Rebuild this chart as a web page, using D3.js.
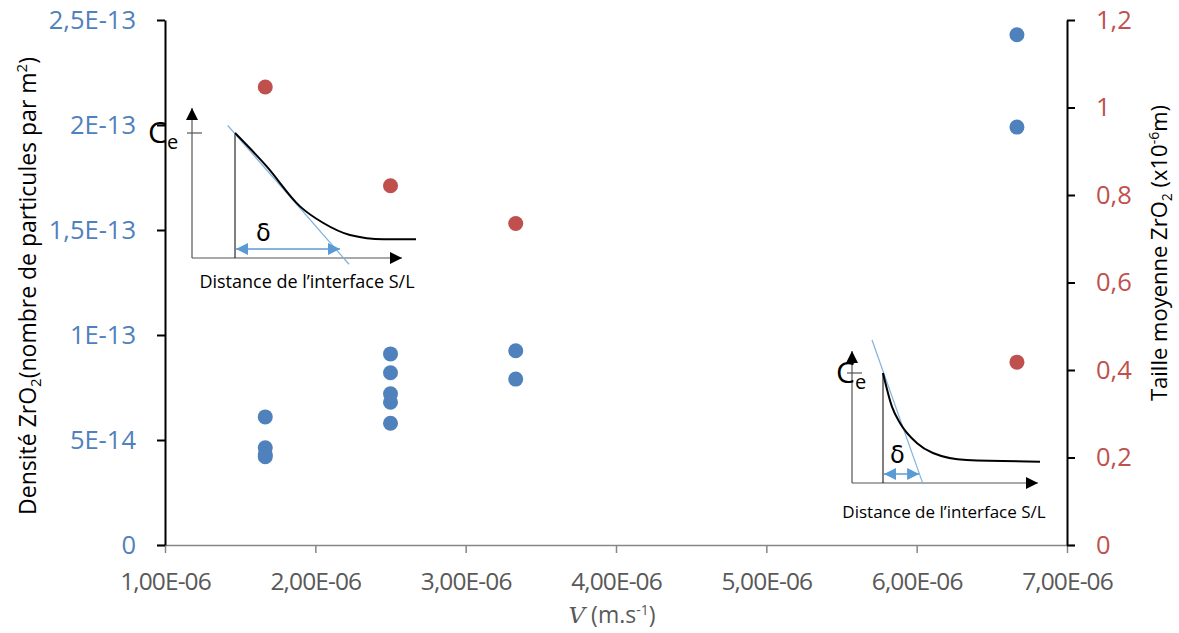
<!DOCTYPE html>
<html><head><meta charset="utf-8">
<script src="https://cdn.jsdelivr.net/npm/d3@7"></script>
<style>
body{margin:0;background:#fff;}
svg{display:block;font-family:"Open Sans",sans-serif;}
</style></head>
<body>
<script>
// ---------- data ----------
const xTickValues = [1e-6, 2e-6, 3e-6, 4e-6, 5e-6, 6e-6, 7e-6];
const xTickLabels = ["1,00E-06","2,00E-06","3,00E-06","4,00E-06","5,00E-06","6,00E-06","7,00E-06"];
const leftTickValues = [0, 5e-14, 1e-13, 1.5e-13, 2e-13, 2.5e-13];
const leftTickLabels = ["0","5E-14","1E-13","1,5E-13","2E-13","2,5E-13"];
const rightTickValues = [0, 0.2, 0.4, 0.6, 0.8, 1.0, 1.2];
const rightTickLabels = ["0","0,2","0,4","0,6","0,8","1","1,2"];

// Densité ZrO2 (left axis)
const densityV   = [1.667e-6, 1.667e-6, 1.667e-6, 1.667e-6, 2.5e-6, 2.5e-6, 2.5e-6, 2.5e-6, 2.5e-6, 3.333e-6, 3.333e-6, 6.667e-6, 6.667e-6];
const densityVal = [6.1e-14, 4.63e-14, 4.3e-14, 4.2e-14, 9.1e-14, 8.2e-14, 7.2e-14, 6.8e-14, 5.8e-14, 9.25e-14, 7.9e-14, 2.43e-13, 1.99e-13];
// Taille moyenne ZrO2 (right axis)
const sizeV   = [1.667e-6, 2.5e-6, 3.333e-6, 6.667e-6];
const sizeVal = [1.047, 0.821, 0.735, 0.418];

// inset schematics (normalized units: x 0..1 distance, y 0..1 concentration)
const insetACurveX = [0, 0.175, 0.359, 0.488, 0.635, 0.82, 1.0];
const insetACurveY = [1, 0.733, 0.413, 0.28, 0.184, 0.15, 0.15];
const insetBCurveX = [0, 0.057, 0.108, 0.215, 0.318, 0.533, 1.0];
const insetBCurveY = [1, 0.694, 0.545, 0.364, 0.273, 0.209, 0.194];

// ---------- layout ----------
const W = 1179, H = 633;
const svg = d3.select("body").append("svg").attr("width", W).attr("height", H);

const x = d3.scaleLinear().domain([1e-6, 7e-6]).range([165, 1067]);
const yL = d3.scaleLinear().domain([0, 2.5e-13]).range([545, 20]);
const yR = d3.scaleLinear().domain([0, 1.2]).range([545, 20]);

const BLUE = "#4F81BD", RED = "#C0504D";

// x axis
const xAxis = d3.axisBottom(x).tickValues(xTickValues)
  .tickFormat((d, i) => xTickLabels[i]).tickSize(8).tickSizeOuter(0);
const gx = svg.append("g").attr("transform", "translate(0,545)").call(xAxis);
gx.select(".domain").attr("stroke", "#868686").attr("stroke-width", 1.5)
  .attr("d", "M157,0.5H1075");
gx.selectAll(".tick line").attr("stroke", "#868686").attr("stroke-width", 1.5);
gx.selectAll(".tick text").attr("fill", "#595959").attr("font-size", 24.5)
  .attr("letter-spacing", -0.9).attr("dy", null).attr("y", 45);

// left axis
const yAxisL = d3.axisLeft(yL).tickValues(leftTickValues)
  .tickFormat((d, i) => leftTickLabels[i]).tickSize(8).tickSizeOuter(0);
const gl = svg.append("g").attr("transform", "translate(165,0)").call(yAxisL);
gl.select(".domain").attr("stroke", "#000").attr("stroke-width", 2);
gl.selectAll(".tick line").attr("stroke", "#000").attr("stroke-width", 2);
gl.selectAll(".tick text").attr("fill", BLUE).attr("font-size", 25.5).attr("x", -29);

// right axis
const yAxisR = d3.axisRight(yR).tickValues(rightTickValues)
  .tickFormat((d, i) => rightTickLabels[i]).tickSize(8).tickSizeOuter(0);
const gr = svg.append("g").attr("transform", "translate(1067,0)").call(yAxisR);
gr.select(".domain").attr("stroke", "#000").attr("stroke-width", 2);
gr.selectAll(".tick line").attr("stroke", "#000").attr("stroke-width", 2);
gr.selectAll(".tick text").attr("fill", RED).attr("font-size", 25.5).attr("x", 29);

svg.selectAll(".tick text").attr("font-family", "Open Sans");

// axis titles
const lt = svg.append("text").attr("transform", "translate(36,286) rotate(-90)")
  .attr("text-anchor", "middle").attr("font-size", 23).attr("fill", "#000");
lt.append("tspan").text("Densité ZrO");
lt.append("tspan").text("2").attr("font-size", 15).attr("dy", 5);
lt.append("tspan").text("(nombre de particules par m").attr("dy", -5);
lt.append("tspan").text("2").attr("font-size", 15).attr("dy", -9);
lt.append("tspan").text(")").attr("dy", 9);

const rt = svg.append("text").attr("transform", "translate(1167,253) rotate(-90)")
  .attr("text-anchor", "middle").attr("font-size", 22).attr("fill", "#000");
rt.append("tspan").text("Taille moyenne ZrO");
rt.append("tspan").text("2").attr("font-size", 14).attr("dy", 5);
rt.append("tspan").text(" (x10").attr("dy", -5);
rt.append("tspan").text("-6").attr("font-size", 14).attr("dy", -8);
rt.append("tspan").text("m)").attr("dy", 8);

const xt = svg.append("text").attr("x", 612).attr("y", 623)
  .attr("text-anchor", "middle").attr("font-size", 23).attr("fill", "#595959");
xt.append("tspan").text("V").attr("font-family", "DejaVu Serif").attr("font-style", "italic");
xt.append("tspan").text(" (m.s");
xt.append("tspan").text("-1").attr("font-size", 14).attr("dy", -8);
xt.append("tspan").text(")").attr("dy", 8);

// ---------- insets ----------
const defs = svg.append("defs");
function marker(id, color, w, h) {
  defs.append("marker").attr("id", id).attr("viewBox", "0 0 10 10")
    .attr("refX", 10).attr("refY", 5).attr("markerWidth", w).attr("markerHeight", h)
    .attr("markerUnits", "userSpaceOnUse").attr("orient", "auto-start-reverse")
    .append("path").attr("d", "M0,0L10,5L0,10Z").attr("fill", color);
}
marker("arrK", "#000", 14, 12);
marker("arrB", "#5B9BD5", 13, 12);

function inset(cfg) {
  const g = svg.append("g");
  const sx = d3.scaleLinear().domain([0, 1]).range([cfg.x0, cfg.x1]);
  const sy = d3.scaleLinear().domain([0, 1]).range([cfg.yBase, cfg.yTop]);
  g.append("line").attr("x1", cfg.ax).attr("y1", cfg.ay).attr("x2", cfg.ax).attr("y2", cfg.arrowTop)
    .attr("stroke", "#555").attr("stroke-width", 1.2).attr("marker-end", "url(#arrK)");
  g.append("line").attr("x1", cfg.ax).attr("y1", cfg.ay).attr("x2", cfg.arrowRight).attr("y2", cfg.ay)
    .attr("stroke", "#555").attr("stroke-width", 1.2).attr("marker-end", "url(#arrK)");
  g.append("line").attr("x1", cfg.ax - 5).attr("x2", cfg.ax + 10).attr("y1", sy(1)).attr("y2", sy(1))
    .attr("stroke", "#555").attr("stroke-width", 1.2);
  const ce = g.append("text").attr("x", cfg.ceX).attr("y", sy(1) + 10).attr("font-size", 30).attr("fill", "#000");
  ce.append("tspan").text("C");
  ce.append("tspan").text("e").attr("font-size", 20).attr("dy", 6);
  g.append("line").attr("x1", sx(0)).attr("x2", sx(0)).attr("y1", sy(1)).attr("y2", cfg.ay)
    .attr("stroke", "#000").attr("stroke-width", 1);
  g.append("line").attr("x1", sx(cfg.tan[0])).attr("y1", sy(cfg.tan[1]))
    .attr("x2", sx(cfg.tan[2])).attr("y2", sy(cfg.tan[3]))
    .attr("stroke", "#7FB2E0").attr("stroke-width", 1.2);
  const pts = cfg.cx.map((d, i) => [sx(d), sy(cfg.cy[i])]);
  g.append("path").attr("d", d3.line().curve(d3.curveMonotoneX)(pts))
    .attr("fill", "none").attr("stroke", "#000").attr("stroke-width", 2);
  g.append("line").attr("x1", sx(0) + 1).attr("x2", sx(cfg.delta)).attr("y1", cfg.dy).attr("y2", cfg.dy)
    .attr("stroke", "#5B9BD5").attr("stroke-width", 1.5)
    .attr("marker-start", "url(#arrB)").attr("marker-end", "url(#arrB)");
  g.append("text").attr("x", cfg.deltaTx).attr("y", cfg.deltaTy).attr("font-size", 24)
    .attr("font-family", "DejaVu Sans").attr("fill", "#000").text("δ");
  g.append("text").attr("x", cfg.lx).attr("y", cfg.ly).attr("font-size", cfg.lfs).attr("fill", "#000")
    .attr("text-anchor", "middle").text("Distance de l’interface S/L");
}

inset({x0: 235, x1: 416, yBase: 258, yTop: 133, ax: 192, ay: 258, arrowTop: 108, arrowRight: 402,
  ceX: 148, cx: insetACurveX, cy: insetACurveY, tan: [-0.04, 1.06, 0.63, -0.05],
  delta: 0.58, dy: 249, deltaTx: 256, deltaTy: 241, lx: 307, ly: 288, lfs: 18});
inset({x0: 883, x1: 1040, yBase: 483, yTop: 373, ax: 852, ay: 483, arrowTop: 351, arrowRight: 1038,
  ceX: 836, cx: insetBCurveX, cy: insetBCurveY, tan: [-0.07, 1.3, 0.255, -0.01],
  delta: 0.23, dy: 474, deltaTx: 890, deltaTy: 463, lx: 944, ly: 518, lfs: 17});

// ---------- points ----------
svg.append("g").selectAll("circle").data(densityV).join("circle")
  .attr("cx", d => x(d)).attr("cy", (d, i) => yL(densityVal[i])).attr("r", 7.5).attr("fill", BLUE);
svg.append("g").selectAll("circle").data(sizeV).join("circle")
  .attr("cx", d => x(d)).attr("cy", (d, i) => yR(sizeVal[i])).attr("r", 7.5).attr("fill", RED);
</script>
</body></html>
